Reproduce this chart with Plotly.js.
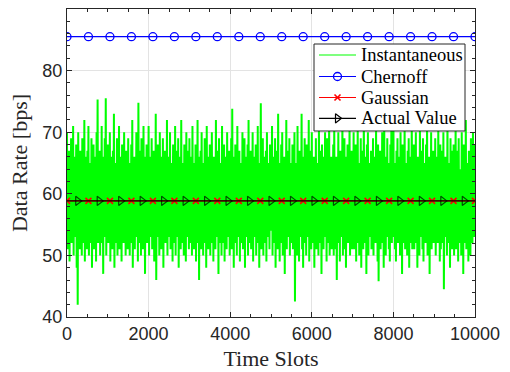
<!DOCTYPE html>
<html>
<head>
<meta charset="utf-8">
<script src="https://cdn.plot.ly/plotly-3.0.1.min.js"></script>
<style>html,body{margin:0;padding:0;background:#fff;}#chart{width:510px;height:372px;}</style>
</head>
<body>
<div id="chart"></div>
<script>
// Instantaneous data rate, read from the picture's envelope:
// local maxima every 25 slots (starting at slot 0) and local minima in between (starting at slot 12.5)
const slotStep = 25;
const instPeaks = [
70,64,67,62,69,65,71,63,66,68,64,70,62,67,65,69,63,72,66,64,
67,71,63,65,69,62,68,66,64,70,75.3,63,67,65,71,62,66,69,75.5,64,
68,63,70,66,62,67,73,64,65,69,63,71,66,62,68,64,70,65,67,63,
69,65,62,68,72,64,66,63,70,65,74.8,62,67,69,64,71,63,66,68,62,
71,64,66,69,62,67,65,73,63,68,64,70,66,62,69,65,67,63,72,64,
66,70,63,65,68,62,71,64,67,69,63,66,72,62,65,68,64,70,63,67,
69,62,66,71,64,65,68,63,72,66,62,67,70,64,65,69,63,71,66,62,
68,65,70,63,66,62,72,64,67,69,63,65,71,62,68,64,66,70,63,67,
65,69,73.8,62,66,68,64,71,63,67,65,62,70,64,69,66,63,68,72,62,
67,64,70,63,66,68,62,71,65,64,74.7,63,69,66,62,67,70,64,65,68,
63,71,66,62,69,64,67,73,65,63,68,70,62,66,64,72,67,63,69,65,
62,68,66,70,63,65,71,64,67,62,73,66,64,69,63,68,65,72,62,67,
70,64,66,63,69,65,62,71,67,64,68,63,66,70,62,69,65,72,64,66,
63,68,71,64,66,62,70,65,67,63,72,64,69,66,62,68,65,71,63,67,
66,70,62,68,64,71,65,63,69,67,62,73,66,64,68,70,63,65,67,62,
69,64,66,71,63,68,62,67,65,70,64,72,66,63,69,65,62,68,71,64,
73,65,63,67,69,62,66,70,64,68,63,71,65,62,67,69,64,66,72,63,
68,62,70,65,66,64,71,63,67,69,62,65,68,72,64,66,63,70,65,67,
64,69,66,62,71,65,68,63,67,70,62,66,64,72,65,63,69,67,62,68,
65,71,63,67,69,64,62,70,66,68,63,72,65,64,67,62,69,66,70,64,
68
];
const instTroughs = [
51,54,49,55,52,53,50,55,53,48,42,54,51,55,50,53,52,49,55,51,
53,50,55,52,48,54,51,55,49,53,52,55,50,54,52,47,55,53,50,54,
52,55,49,53,51,54,48,55,52,50,54,51,55,49,53,52,55,50,54,51,
55,50,53,52,48,54,51,55,53,49,54,52,50,55,51,53,47,54,52,55,
50,53,55,51,54,49,52,46,55,53,50,54,51,55,48,53,52,54,50,55,
53,51,54,49,55,52,50,54,53,48,55,51,54,52,50,55,49,53,54,51,
54,52,50,55,51,53,49,54,52,46,55,51,53,50,54,52,48,55,51,53,
50,55,52,49,54,51,55,53,47,52,54,50,55,52,49,54,51,53,55,50,
53,51,55,48,52,54,50,55,53,49,54,52,51,55,48,53,54,50,52,55,
51,54,49,53,55,50,52,54,48,55,51,53,50,54,52,49,55,53,51,54,
55,50,53,52,48,54,51,55,49,53,52,50,55,47,54,51,53,55,50,52,
54,51,55,42.5,52,50,54,49,53,55,51,48,54,52,50,55,53,49,54,51,
52,55,48,53,51,54,50,55,52,47,54,51,53,55,49,52,54,50,55,51,
53,50,54,51,46,55,52,49,54,53,50,55,51,48,54,52,55,50,53,51,
55,51,53,49,54,52,50,55,48,53,51,54,52,47,55,50,53,54,51,52,
50,54,52,55,49,45.8,53,51,55,52,48,54,50,53,55,51,49,54,52,53,
54,51,49,55,52,53,50,54,47,52,55,51,53,50,54,48,52,55,51,53,
51,55,52,48,54,50,53,55,51,49,54,52,55,50,53,47,54,51,55,52,
53,50,54,52,55,49,51,54,52,44.5,53,55,50,52,54,48,55,51,53,50,
54,51,55,49,52,53,50,55,47,54,52,51,55,49,53,50,54,52,55,53
];
// Merge peaks and troughs in time order
const instSlots = [], instantaneous = [];
instPeaks.forEach((v, i) => {
  instSlots.push(i * slotStep); instantaneous.push(v);
  if (i < instTroughs.length) { instSlots.push(i * slotStep + slotStep / 2); instantaneous.push(instTroughs[i]); }
});

// Marker positions (time slots)
const markerSlots = [0,526,1053,1579,2105,2632,3158,3684,4211,4737,5263,5789,6316,6842,7368,7895,8421,8947,9474,10000];
const actualMarkerSlots = [0,263,789,1316,1842,2368,2895,3421,3947,4474,5000,5526,6053,6579,7105,7632,8158,8684,9211,9737,10000];

// Constant bounds / values
const chernoffValue = 85.5;
const gaussianValue = 58.85;
const actualValue = 58.85;

const chernoffY = markerSlots.map(() => chernoffValue);
const gaussianY = markerSlots.map(() => gaussianValue);
const actualY = actualMarkerSlots.map(() => actualValue);
const actualSizes = actualMarkerSlots.map((x, i) => (i === 0 || i === actualMarkerSlots.length - 1) ? 0 : 8);

const seriesNames = ['Instantaneous', 'Chernoff', 'Gaussian', 'Actual Value'];
const xTicks = [0, 2000, 4000, 6000, 8000, 10000];
const yTicks = [40, 50, 60, 70, 80, 90];

const axisColor = '#262626';
const tickFont = {family: 'Liberation Sans, Arial, sans-serif', size: 18, color: axisColor};
const titleFont = {family: 'Liberation Serif, Times New Roman, serif', size: 22, color: axisColor};
const serif = 'Liberation Serif, Times New Roman, serif';

const styles = [
  {line: {color: '#00ff00', width: 2, simplify: false}},
  {line: {color: '#0000ff', width: 1.2},
   marker: {symbol: 'circle-open', size: 8, color: '#0000ff', line: {width: 1.3, color: '#0000ff'}}},
  {line: {color: '#ff0000', width: 1.2},
   marker: {symbol: 'x-thin-open', size: 6, color: '#ff0000', line: {width: 1.6, color: '#ff0000'}}},
  {line: {color: '#000000', width: 1.2},
   marker: {symbol: 'triangle-right-open', size: 8, color: '#000000', line: {width: 1.2, color: '#000000'}}}
];

const traces = [
  {x: instSlots, y: instantaneous, type: 'scatter', mode: 'lines', name: seriesNames[0],
   line: styles[0].line, showlegend: false},
  {x: markerSlots, y: chernoffY, type: 'scatter', mode: 'lines+markers', name: seriesNames[1],
   line: styles[1].line, marker: styles[1].marker, showlegend: false},
  {x: markerSlots, y: gaussianY, type: 'scatter', mode: 'lines+markers', name: seriesNames[2],
   line: styles[2].line, marker: styles[2].marker, showlegend: false},
  {x: actualMarkerSlots, y: actualY, type: 'scatter', mode: 'lines+markers', name: seriesNames[3],
   line: styles[3].line, marker: Object.assign({}, styles[3].marker, {size: actualSizes}), showlegend: false}
];

// Hand-built legend on an overlay pixel-scale axis pair (layout only)
const legendBox = {x0: 314, x1: 465, y0: 44, y1: 131};
const legendRows = [55, 76.5, 97.5, 118.3];
const sampleX = [319, 356];
const textX = 359;
traces.push({
  x: [legendBox.x0, legendBox.x1, legendBox.x1, legendBox.x0, legendBox.x0],
  y: [legendBox.y0, legendBox.y0, legendBox.y1, legendBox.y1, legendBox.y0],
  xaxis: 'x2', yaxis: 'y2', type: 'scatter', mode: 'lines', fill: 'toself',
  fillcolor: '#ffffff', line: {color: axisColor, width: 1}, showlegend: false, hoverinfo: 'skip'
});
const annotations = [];
seriesNames.forEach((name, i) => {
  const yy = legendRows[i];
  traces.push({x: sampleX, y: [yy, yy], xaxis: 'x2', yaxis: 'y2', type: 'scatter', mode: 'lines',
    line: Object.assign({}, styles[i].line, {width: 1.2}), showlegend: false, hoverinfo: 'skip'});
  if (styles[i].marker) {
    traces.push({x: [(sampleX[0] + sampleX[1]) / 2], y: [yy], xaxis: 'x2', yaxis: 'y2', type: 'scatter',
      mode: 'markers', marker: styles[i].marker, showlegend: false, hoverinfo: 'skip'});
  }
  annotations.push({xref: 'x2', yref: 'y2', x: textX, y: yy, text: name, showarrow: false,
    xanchor: 'left', yanchor: 'middle', font: {family: serif, size: 18.5, color: '#000000'}});
});

const layout = {
  width: 510, height: 372,
  margin: {l: 67, r: 35, t: 9, b: 55, pad: 0},
  paper_bgcolor: '#ffffff', plot_bgcolor: '#ffffff',
  showlegend: false,
  annotations: annotations,
  xaxis: {
    range: [0, 10000], tickvals: xTicks, ticktext: xTicks.map(String),
    showline: true, linecolor: axisColor, linewidth: 1, mirror: 'allticks',
    ticks: 'inside', ticklen: 5, tickcolor: axisColor,
    minor: {dtick: 500, ticks: 'inside', ticklen: 3, tickcolor: axisColor, showgrid: false},
    showgrid: true, gridcolor: '#e3e3e3', gridwidth: 1, zeroline: false,
    tickfont: tickFont,
    title: {text: 'Time Slots', font: titleFont, standoff: 8}
  },
  yaxis: {
    range: [40, 90], tickvals: yTicks, ticktext: yTicks.map(String),
    showline: true, linecolor: axisColor, linewidth: 1, mirror: 'allticks',
    ticks: 'inside', ticklen: 5, tickcolor: axisColor,
    minor: {dtick: 2, ticks: 'inside', ticklen: 3, tickcolor: axisColor, showgrid: false},
    showgrid: true, gridcolor: '#e3e3e3', gridwidth: 1, zeroline: false,
    tickfont: tickFont,
    title: {text: 'Data Rate [bps]', font: titleFont, standoff: 8}
  },
  xaxis2: {overlaying: 'x', range: [67, 475], visible: false, fixedrange: true},
  yaxis2: {overlaying: 'y', range: [317, 9], visible: false, fixedrange: true}
};

Plotly.newPlot('chart', traces, layout, {displayModeBar: false, staticPlot: true});
</script>
</body>
</html>
